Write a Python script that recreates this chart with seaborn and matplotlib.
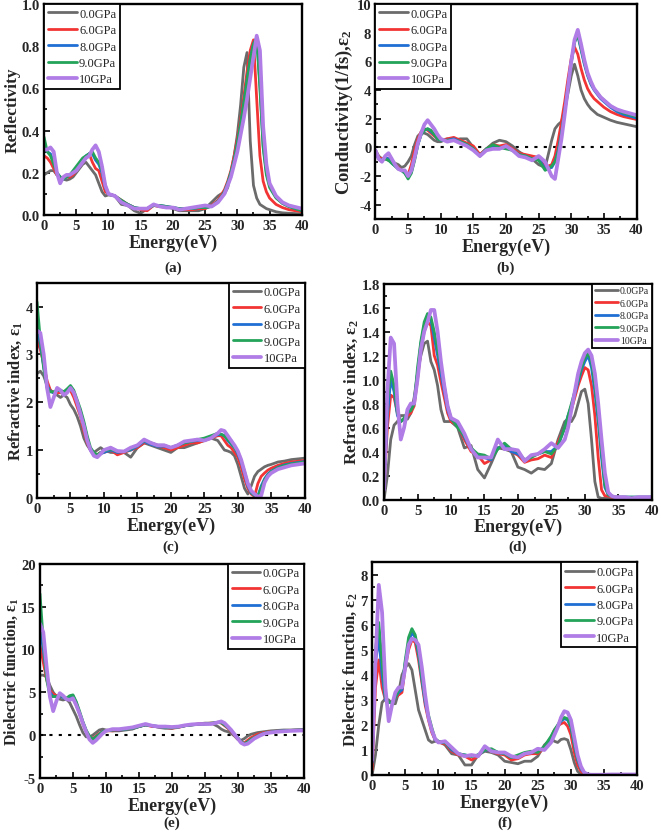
import numpy as np
import pandas as pd
import matplotlib
matplotlib.use("Agg")
import matplotlib.pyplot as plt
import seaborn as sns
from matplotlib.ticker import MultipleLocator, FormatStrFormatter

# ---------------- data ----------------
energy = [0, 0.5, 1, 1.5, 2, 2.5, 3, 3.5, 4, 4.5, 5, 5.5, 6, 6.5, 7, 7.5, 8, 8.5, 9, 9.5, 10,
          11, 12, 13, 14, 15, 16, 17, 18, 19, 20, 21, 22, 23, 24, 25, 26, 27,
          27.5, 28, 28.5, 29, 29.5, 30, 30.5, 31, 31.5, 32, 32.5, 33, 33.5, 34, 34.5, 35,
          36, 37, 38, 40]
pressures = ["0.0GPa", "6.0GPa", "8.0GPa", "9.0GPa", "10GPa"]

# (a) Reflectivity
refl_0 = [0.19,0.20,0.21,0.21,0.19,0.18,0.17,0.165,0.17,0.18,0.20,0.22,0.24,0.25,0.23,0.21,0.19,0.15,0.11,0.09,0.095,
          0.09,0.05,0.045,0.02,0.008,0.03,0.045,0.04,0.04,0.03,0.02,0.02,0.02,0.02,0.03,0.06,0.09,
          0.10,0.10,0.13,0.20,0.28,0.38,0.52,0.70,0.77,0.35,0.14,0.08,0.05,0.04,0.03,0.025,
          0.015,0.01,0.008,0.005]
refl_6 = [0.28,0.27,0.25,0.22,0.19,0.18,0.175,0.18,0.18,0.19,0.21,0.23,0.25,0.27,0.29,0.25,0.22,0.21,0.16,0.11,0.10,
          0.09,0.07,0.05,0.035,0.025,0.02,0.045,0.04,0.035,0.035,0.025,0.025,0.025,0.03,0.03,0.045,0.07,
          0.095,0.12,0.16,0.21,0.28,0.36,0.45,0.56,0.68,0.78,0.83,0.55,0.28,0.16,0.11,0.08,
          0.05,0.035,0.025,0.015]
refl_8 = [0.33,0.30,0.29,0.25,0.20,0.18,0.17,0.18,0.19,0.20,0.22,0.24,0.26,0.28,0.29,0.29,0.26,0.24,0.20,0.13,0.10,
          0.09,0.065,0.05,0.035,0.03,0.03,0.045,0.045,0.04,0.035,0.03,0.03,0.03,0.035,0.035,0.04,0.065,
          0.085,0.11,0.15,0.20,0.26,0.34,0.43,0.53,0.64,0.74,0.81,0.84,0.62,0.33,0.20,0.14,
          0.085,0.055,0.04,0.02]
refl_9 = [0.37,0.30,0.28,0.24,0.20,0.18,0.17,0.18,0.19,0.21,0.23,0.25,0.27,0.28,0.29,0.30,0.27,0.25,0.21,0.14,0.10,
          0.09,0.07,0.05,0.035,0.03,0.03,0.045,0.045,0.04,0.035,0.03,0.03,0.03,0.035,0.035,0.04,0.065,
          0.085,0.11,0.15,0.20,0.26,0.34,0.43,0.53,0.64,0.74,0.81,0.84,0.60,0.32,0.19,0.13,
          0.08,0.055,0.04,0.02]
refl_10 = [0.31,0.31,0.32,0.30,0.20,0.15,0.18,0.19,0.19,0.20,0.21,0.23,0.25,0.27,0.28,0.31,0.33,0.30,0.23,0.14,0.10,
           0.09,0.06,0.045,0.03,0.03,0.03,0.05,0.04,0.035,0.035,0.025,0.03,0.035,0.04,0.045,0.04,0.06,
           0.08,0.10,0.14,0.18,0.24,0.30,0.38,0.46,0.55,0.65,0.75,0.85,0.78,0.42,0.24,0.15,
           0.09,0.06,0.045,0.03]

# (b) Conductivity
cond_0 = [-0.2,-0.6,-0.8,-0.8,-0.9,-1.0,-1.1,-1.2,-1.4,-1.3,-1.0,-0.6,0.2,0.8,1.0,1.0,0.9,0.7,0.5,0.4,0.4,
          0.6,0.5,0.6,0.6,0.0,-0.5,-0.1,0.3,0.5,0.4,0.1,-0.3,-0.6,-0.8,-1.2,-1.4,0.5,
          1.3,1.6,1.8,2.6,3.8,5.0,5.8,5.0,4.0,3.4,3.0,2.7,2.5,2.3,2.2,2.1,
          1.9,1.75,1.65,1.45]
cond_6 = [-0.2,-0.7,-0.8,-0.7,-0.8,-1.0,-1.2,-1.4,-1.6,-1.7,-1.9,-1.2,-0.2,0.6,1.1,1.3,1.2,1.0,0.8,0.6,0.5,
          0.6,0.7,0.5,0.3,0.1,-0.5,-0.1,0.2,0.1,0.2,-0.1,-0.4,-0.5,-0.6,-0.7,-1.4,-1.2,
          -0.6,0.5,1.8,3.2,4.8,6.2,7.0,6.5,5.5,4.7,4.1,3.7,3.4,3.2,3.0,2.8,
          2.5,2.3,2.15,1.95]
cond_8 = [-0.2,-0.8,-0.9,-0.7,-0.8,-1.1,-1.3,-1.5,-1.6,-1.8,-2.1,-1.7,-0.8,0.2,0.9,1.2,1.3,1.1,0.9,0.6,0.5,
          0.5,0.6,0.4,0.2,-0.1,-0.6,-0.1,0.1,0.0,0.0,-0.2,-0.5,-0.6,-0.8,-0.8,-1.5,-1.4,
          -1.0,-0.2,1.0,2.6,4.3,6.0,7.4,7.8,6.8,5.8,5.0,4.4,4.0,3.7,3.4,3.2,
          2.8,2.5,2.3,2.05]
cond_9 = [-0.2,-0.8,-0.9,-0.8,-0.9,-1.1,-1.3,-1.5,-1.6,-1.8,-2.2,-1.8,-0.9,0.2,0.9,1.2,1.3,1.2,0.9,0.6,0.5,
          0.5,0.5,0.4,0.2,-0.1,-0.6,-0.1,0.2,0.0,-0.1,-0.2,-0.5,-0.6,-0.8,-0.9,-1.6,-1.3,
          -1.0,-0.3,0.9,2.5,4.2,5.9,7.3,7.9,6.9,5.9,5.1,4.5,4.1,3.8,3.5,3.3,
          2.9,2.6,2.4,2.15]
cond_10 = [-0.2,-0.8,-1.0,-0.6,-0.4,-0.8,-1.2,-1.5,-1.6,-1.6,-2.0,-1.6,-0.7,0.3,1.0,1.6,1.9,1.6,1.3,0.9,0.6,
           0.4,0.5,0.3,0.1,-0.2,-0.6,-0.2,-0.1,-0.1,0.1,-0.2,-0.6,-0.7,-0.9,-0.6,-1.0,-2.0,
           -2.2,-0.8,0.6,2.3,4.2,6.0,7.5,8.2,7.2,6.1,5.2,4.6,4.1,3.8,3.5,3.3,
           2.9,2.65,2.5,2.25]

# (c) Refractive index, real part
n_0 = [2.6,2.65,2.55,2.35,2.25,2.2,2.15,2.1,2.15,2.1,1.95,1.85,1.7,1.5,1.25,1.1,1.0,0.95,1.0,1.05,1.0,
       0.95,0.95,0.95,0.85,1.05,1.15,1.1,1.05,1.0,0.95,1.05,1.05,1.1,1.15,1.2,1.25,1.2,
       1.1,1.0,0.98,0.95,0.88,0.7,0.45,0.2,0.08,0.25,0.45,0.55,0.6,0.65,0.68,0.7,
       0.75,0.77,0.8,0.83]
n_6 = [3.3,3.1,2.8,2.45,2.25,2.2,2.2,2.2,2.2,2.25,2.25,2.1,1.9,1.7,1.4,1.15,1.0,0.9,0.9,0.95,0.95,
       1.0,0.9,0.95,1.0,1.05,1.15,1.15,1.1,1.05,1.0,1.05,1.1,1.15,1.15,1.2,1.25,1.3,
       1.3,1.2,1.1,1.05,0.95,0.85,0.65,0.4,0.2,0.08,0.03,0.3,0.45,0.52,0.58,0.62,
       0.68,0.72,0.75,0.78]
n_8 = [3.6,3.2,2.75,2.35,2.22,2.2,2.25,2.25,2.2,2.25,2.3,2.2,2.0,1.8,1.55,1.25,1.0,0.9,0.88,0.92,0.95,
       1.0,0.95,0.97,1.0,1.08,1.18,1.12,1.08,1.08,1.05,1.1,1.15,1.18,1.2,1.22,1.28,1.32,
       1.33,1.3,1.2,1.12,1.05,0.92,0.75,0.5,0.25,0.1,0.05,0.04,0.25,0.4,0.5,0.56,
       0.64,0.69,0.72,0.76]
n_9 = [4.1,3.3,2.7,2.3,2.22,2.22,2.25,2.25,2.22,2.28,2.35,2.25,2.05,1.85,1.6,1.3,1.05,0.95,0.9,0.95,0.98,
       1.02,0.97,0.97,1.02,1.1,1.2,1.15,1.1,1.1,1.05,1.1,1.15,1.18,1.22,1.25,1.3,1.35,
       1.33,1.3,1.22,1.15,1.05,0.95,0.78,0.55,0.3,0.12,0.05,0.03,0.2,0.38,0.48,0.55,
       0.63,0.68,0.71,0.75]
n_10 = [3.5,3.45,3.0,2.3,1.9,2.1,2.3,2.25,2.15,2.2,2.3,2.2,2.0,1.75,1.5,1.2,1.0,0.88,0.85,0.92,1.0,
        1.05,0.98,0.97,1.05,1.1,1.22,1.15,1.1,1.1,1.05,1.1,1.18,1.2,1.22,1.2,1.25,1.35,
        1.42,1.4,1.3,1.2,1.1,0.98,0.8,0.55,0.3,0.15,0.08,0.02,0.05,0.32,0.45,0.52,
        0.6,0.64,0.68,0.72]

# (d) Refractive index, imaginary part
k_0 = [0.0,0.2,0.5,0.62,0.65,0.7,0.7,0.67,0.72,0.85,1.05,1.2,1.3,1.32,1.15,1.08,0.95,0.75,0.65,0.65,0.65,
       0.6,0.43,0.45,0.25,0.18,0.3,0.43,0.42,0.4,0.27,0.25,0.22,0.26,0.25,0.3,0.5,0.65,
       0.67,0.65,0.7,0.8,0.9,0.92,0.8,0.5,0.15,0.02,0.01,0.01,0.01,0.01,0.01,0.01,
       0.01,0.01,0.01,0.01]
k_6 = [0.1,0.6,0.87,0.85,0.72,0.65,0.67,0.7,0.72,0.78,1.0,1.25,1.4,1.48,1.45,1.2,1.12,0.98,0.85,0.72,0.65,
       0.62,0.5,0.4,0.37,0.3,0.33,0.43,0.44,0.4,0.37,0.31,0.33,0.34,0.37,0.35,0.48,0.6,
       0.68,0.75,0.85,0.95,1.03,1.1,1.08,0.95,0.7,0.35,0.08,0.03,0.03,0.02,0.02,0.02,
       0.01,0.01,0.01,0.01]
k_8 = [0.1,0.7,1.0,0.9,0.7,0.65,0.67,0.72,0.75,0.8,1.05,1.3,1.45,1.52,1.5,1.35,1.2,1.05,0.9,0.75,0.67,
       0.62,0.52,0.42,0.37,0.35,0.33,0.43,0.45,0.4,0.38,0.33,0.36,0.38,0.4,0.4,0.45,0.6,
       0.7,0.78,0.88,0.98,1.08,1.15,1.2,1.1,0.9,0.65,0.35,0.1,0.04,0.03,0.02,0.02,
       0.02,0.02,0.02,0.02]
k_9 = [0.2,0.8,1.07,0.95,0.72,0.65,0.68,0.73,0.74,0.8,1.1,1.32,1.48,1.55,1.52,1.4,1.25,1.1,0.95,0.78,0.68,
       0.6,0.53,0.43,0.38,0.37,0.34,0.42,0.47,0.42,0.4,0.33,0.35,0.38,0.4,0.38,0.45,0.6,
       0.7,0.8,0.9,1.0,1.1,1.18,1.22,1.15,0.95,0.7,0.4,0.12,0.04,0.03,0.02,0.02,
       0.02,0.02,0.02,0.02]
k_10 = [0.08,0.9,1.35,1.3,0.8,0.5,0.6,0.75,0.8,0.8,1.0,1.25,1.4,1.48,1.58,1.58,1.4,1.15,0.95,0.78,0.68,
        0.65,0.55,0.42,0.35,0.35,0.35,0.5,0.42,0.42,0.41,0.32,0.37,0.38,0.42,0.47,0.43,0.5,
        0.6,0.75,0.9,1.05,1.15,1.22,1.25,1.2,1.05,0.8,0.5,0.22,0.06,0.03,0.02,0.02,
        0.02,0.01,0.02,0.02]

# (e) Dielectric function, real part
e1_0 = [7.0,7.0,6.8,5.8,5.0,4.5,4.2,4.1,4.2,3.8,3.0,2.2,1.2,0.3,-0.2,-0.2,0.0,0.3,0.6,0.7,0.6,
        0.5,0.5,0.6,0.7,1.0,1.2,1.1,0.9,0.8,0.8,1.0,1.1,1.2,1.3,1.4,1.4,1.0,
        0.7,0.5,0.4,0.2,-0.1,-0.5,-0.6,-0.4,-0.1,0.1,0.2,0.3,0.35,0.4,0.45,0.5,
        0.55,0.6,0.6,0.65]
e1_6 = [10.5,8.5,6.5,5.2,4.8,4.6,4.5,4.5,4.3,4.4,4.3,3.5,2.5,1.3,0.4,-0.2,-0.4,-0.1,0.2,0.4,0.5,
        0.5,0.6,0.7,0.8,1.0,1.2,1.0,1.0,0.9,0.8,0.9,1.1,1.2,1.3,1.35,1.4,1.5,
        1.4,1.1,0.8,0.4,0.0,-0.4,-0.8,-0.9,-0.6,-0.3,-0.1,0.1,0.2,0.3,0.35,0.4,
        0.45,0.5,0.55,0.6]
e1_8 = [12.5,10.0,7.0,5.0,4.5,4.5,4.6,4.4,4.2,4.5,4.6,3.8,2.6,1.5,0.5,-0.2,-0.5,-0.2,0.1,0.4,0.5,
        0.6,0.6,0.7,0.8,1.0,1.2,1.1,1.0,0.9,0.85,0.95,1.1,1.2,1.25,1.3,1.35,1.5,
        1.5,1.2,0.9,0.5,0.1,-0.3,-0.8,-1.0,-0.8,-0.5,-0.3,-0.1,0.1,0.2,0.3,0.35,
        0.45,0.5,0.55,0.6]
e1_9 = [16.5,11.0,6.5,4.6,4.5,4.5,4.7,4.5,4.3,4.6,4.7,3.9,2.8,1.6,0.6,-0.1,-0.5,-0.2,0.1,0.4,0.5,
        0.6,0.65,0.7,0.8,1.0,1.2,1.1,1.0,0.9,0.85,0.95,1.1,1.2,1.25,1.3,1.4,1.5,
        1.45,1.2,0.9,0.5,0.1,-0.3,-0.8,-1.0,-0.8,-0.5,-0.3,-0.1,0.05,0.2,0.3,0.35,
        0.45,0.5,0.55,0.6]
e1_10 = [13.0,12.0,8.0,4.5,2.8,4.0,4.9,4.6,4.2,4.1,4.3,3.5,2.5,1.4,0.4,-0.5,-0.9,-0.6,-0.2,0.2,0.5,
         0.7,0.7,0.8,0.9,1.1,1.3,1.1,1.0,1.0,0.95,1.0,1.15,1.25,1.3,1.3,1.3,1.5,
         1.6,1.4,1.0,0.6,0.1,-0.4,-0.9,-1.1,-1.0,-0.7,-0.4,-0.2,0.0,0.15,0.25,0.3,
         0.4,0.45,0.5,0.55]

# (f) Dielectric function, imaginary part
e2_0 = [0.0,0.8,2.0,2.9,3.05,3.0,2.85,2.85,3.3,4.0,4.3,4.45,4.2,3.4,2.6,2.2,1.8,1.4,1.3,1.35,1.35,
        1.2,0.85,0.8,0.4,0.4,0.8,0.95,0.9,0.8,0.55,0.5,0.45,0.55,0.55,0.75,1.2,1.45,
        1.35,1.3,1.42,1.45,1.4,1.0,0.5,0.15,0.03,0.01,0.01,0.01,0.01,0.01,0.01,0.01,
        0.01,0.01,0.01,0.01]
e2_6 = [0.2,3.5,4.6,3.5,3.0,2.9,2.9,3.1,3.2,3.3,4.3,5.0,5.4,5.3,4.6,3.7,2.8,2.2,1.7,1.4,1.3,
        1.25,0.95,0.8,0.75,0.6,0.75,1.05,0.95,0.85,0.8,0.6,0.65,0.8,0.85,0.85,1.1,1.5,
        1.8,1.95,2.05,2.1,1.95,1.6,0.9,0.4,0.15,0.03,0.01,0.01,0.01,0.01,0.01,0.01,
        0.01,0.01,0.01,0.01]
e2_8 = [0.5,4.5,5.5,4.0,3.0,2.9,2.9,3.1,3.3,3.4,4.5,5.3,5.7,5.5,4.8,3.8,2.9,2.3,1.8,1.4,1.3,
        1.3,1.0,0.85,0.8,0.75,0.8,1.0,1.0,0.9,0.85,0.7,0.75,0.85,0.9,0.95,1.1,1.5,
        1.75,1.95,2.15,2.25,2.2,1.9,1.2,0.6,0.25,0.08,0.02,0.01,0.01,0.01,0.01,0.01,
        0.01,0.01,0.01,0.01]
e2_9 = [0.8,5.0,6.1,4.5,3.1,2.9,2.9,3.1,3.4,3.5,4.6,5.5,5.85,5.6,4.9,3.9,3.0,2.4,1.9,1.45,1.35,
        1.3,1.05,0.85,0.8,0.75,0.8,1.0,1.05,0.9,0.85,0.7,0.8,0.9,0.95,0.9,1.15,1.55,
        1.8,2.0,2.2,2.3,2.25,1.95,1.25,0.65,0.3,0.1,0.03,0.01,0.01,0.01,0.01,0.01,
        0.01,0.01,0.01,0.01]
e2_10 = [0.6,4.5,7.6,6.5,3.5,2.15,2.8,3.3,3.5,3.5,4.3,5.2,5.45,5.4,5.2,4.3,3.2,2.3,1.8,1.45,1.3,
         1.35,1.1,0.85,0.75,0.8,0.75,1.15,0.95,0.9,0.9,0.75,0.7,0.85,0.9,1.05,1.0,1.3,
         1.6,1.9,2.3,2.55,2.5,2.2,1.5,0.8,0.35,0.1,0.03,0.01,0.01,0.01,0.01,0.01,
         0.02,0.02,0.02,0.02]

# ---------------- style ----------------
sns.set_theme(style="ticks")
plt.rcParams["font.family"] = ["Liberation Serif", "DejaVu Serif"]
plt.rcParams["font.weight"] = "bold"
plt.rcParams["mathtext.fontset"] = "custom"
plt.rcParams["mathtext.rm"] = "Liberation Serif:bold"
plt.rcParams["mathtext.it"] = "Liberation Serif:bold"
plt.rcParams["mathtext.bf"] = "Liberation Serif:bold"
plt.rcParams["mathtext.default"] = "rm"

colors = {"0.0GPa": "#6b6b6b", "6.0GPa": "#f23434", "8.0GPa": "#1f6fd4",
          "9.0GPa": "#24a35a", "10GPa": "#b07ce6"}
widths = {"0.0GPa": 2.0, "6.0GPa": 2.0, "8.0GPa": 2.0, "9.0GPa": 2.0, "10GPa": 2.7}

panels = [
    dict(series=[refl_0, refl_6, refl_8, refl_9, refl_10], ylim=(0, 1.0), ystep=0.2, fmt="%.1f",
         ylabel="Reflectivity", ylfs=12.5, loc="upper left", lfs=9, tag="(a)", tagy=0.680,
         rect=[0.0666, 0.742, 0.390, 0.252], zero=False),
    dict(series=[cond_0, cond_6, cond_8, cond_9, cond_10], ylim=(-5, 10), ystep=2, fmt="%d",
         ylabel="Conductivity(1/fs),ε$_2$", ylfs=13.5, loc="upper left", lfs=9, tag="(b)", tagy=0.680,
         rect=[0.568, 0.737, 0.395, 0.257], zero=True, yticks=[-4, -2, 0, 2, 4, 6, 8, 10]),
    dict(series=[n_0, n_6, n_8, n_9, n_10], ylim=(0, 4.5), ystep=1, fmt="%d",
         ylabel="Refractive index, ε$_1$", ylfs=12, loc="upper right", lfs=9, tag="(c)", tagy=0.346,
         rect=[0.056, 0.404, 0.405, 0.257], zero=False),
    dict(series=[k_0, k_6, k_8, k_9, k_10], ylim=(0, 1.8), ystep=0.2, fmt="%.1f",
         ylabel="Refractive index, ε$_2$", ylfs=12.5, loc="upper right", lfs=7, tag="(d)", tagy=0.346,
         rect=[0.581, 0.402, 0.405, 0.258], zero=False),
    dict(series=[e1_0, e1_6, e1_8, e1_9, e1_10], ylim=(-5, 20), ystep=5, fmt="%d",
         ylabel="Dielectric function, ε$_1$", ylfs=11.5, loc="upper right", lfs=9, tag="(e)", tagy=0.017,
         rect=[0.0605, 0.0693, 0.399, 0.256], zero=True),
    dict(series=[e2_0, e2_6, e2_8, e2_9, e2_10], ylim=(0, 8.5), ystep=1, fmt="%d",
         ylabel="Dielectric function, ε$_2$", ylfs=12, loc="upper right", lfs=9, tag="(f)", tagy=0.017,
         rect=[0.563, 0.0729, 0.401, 0.254], zero=False),
]

fig = plt.figure(figsize=(6.61, 8.37), dpi=100)

for p in panels:
    ax = fig.add_axes(p["rect"])
    frames = []
    for name, vals in zip(pressures, p["series"]):
        frames.append(pd.DataFrame({"Energy": energy, "Value": vals, "Pressure": name}))
    df = pd.concat(frames, ignore_index=True)
    if p["zero"]:
        ax.axhline(0, color="black", linestyle=(0, (1.5, 3)), linewidth=1.5, zorder=1)
    sns.lineplot(data=df, x="Energy", y="Value", hue="Pressure", size="Pressure",
                 hue_order=pressures, size_order=pressures, palette=colors, sizes=widths,
                 errorbar=None, ax=ax, zorder=2)
    ax.set_xlim(0, 40)
    ax.set_ylim(*p["ylim"])
    ax.xaxis.set_major_locator(MultipleLocator(5))
    ax.xaxis.set_minor_locator(MultipleLocator(2.5))
    if "yticks" in p:
        ax.set_yticks(p["yticks"])
        ax.yaxis.set_minor_locator(MultipleLocator(1))
    else:
        ax.yaxis.set_major_locator(MultipleLocator(p["ystep"]))
        ax.yaxis.set_minor_locator(MultipleLocator(p["ystep"] / 2))
    ax.yaxis.set_major_formatter(FormatStrFormatter(p["fmt"]))
    ax.tick_params(which="both", direction="in", width=1.4, labelsize=10.5, pad=3)
    ax.tick_params(which="major", length=4)
    ax.tick_params(which="minor", length=2.2)
    for lab in ax.get_xticklabels() + ax.get_yticklabels():
        lab.set_fontweight("bold")
    for s in ax.spines.values():
        s.set_linewidth(1.7)
        s.set_color("black")
    ax.set_xlabel("Energy(eV)", fontsize=13, fontweight="bold", labelpad=1)
    ax.set_ylabel(p["ylabel"], fontsize=p["ylfs"], fontweight="bold", labelpad=1)
    handles, labels = ax.get_legend_handles_labels()
    leg = ax.legend(handles, labels, loc=p["loc"], fontsize=p["lfs"], frameon=True,
                    fancybox=False, edgecolor="black", framealpha=1, borderaxespad=0.0,
                    handlelength=2.3, handletextpad=0.2, labelspacing=0.35, borderpad=0.3)
    leg.get_frame().set_linewidth(1.3)
    for t in leg.get_texts():
        t.set_fontweight("normal")
    pos = ax.get_position()
    fig.text(pos.x0 + pos.width / 2, p["tagy"], p["tag"], ha="center", va="center",
             fontsize=11, fontweight="bold")

fig.savefig("out.png", dpi=100)
